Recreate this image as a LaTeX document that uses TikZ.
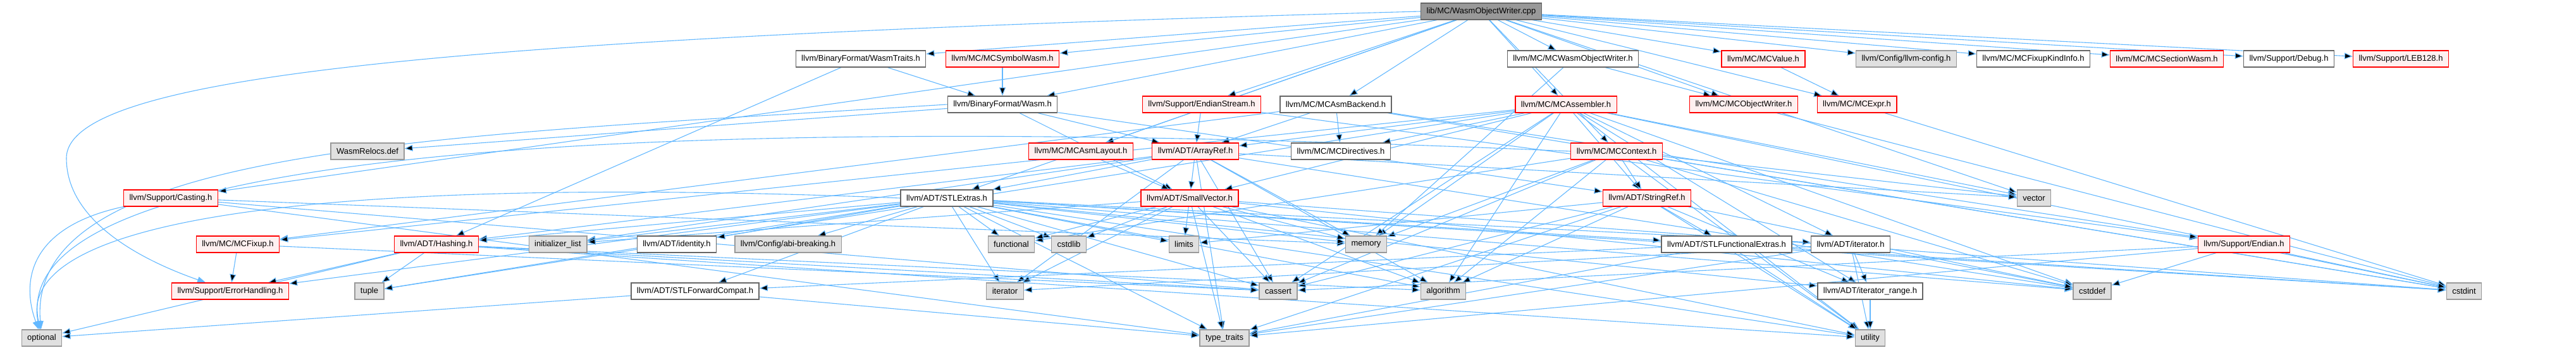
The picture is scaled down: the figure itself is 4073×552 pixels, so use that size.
\documentclass[tikz,border=0pt]{standalone}
\usepackage{fontspec}
\setmainfont{Liberation Sans}
\usetikzlibrary{arrows.meta, backgrounds}

\definecolor{edgeblue}{HTML}{63B8FF}
\definecolor{rootgray}{HTML}{999999}
\definecolor{stdgray}{HTML}{E0E0E0}
\definecolor{truncfill}{HTML}{FFF0F0}
\definecolor{plainline}{HTML}{666666}
\definecolor{stdline}{HTML}{999999}

\begin{document}
\begin{tikzpicture}[x=1pt, y=-1pt, >={Triangle[length=13pt, width=10pt]},
      hdr/.style={draw=plainline, fill=white, line width=1.3pt, minimum height=26pt,
                  inner xsep=9pt, inner ysep=0pt, font=\fontsize{13}{15}\selectfont},
      mainf/.style={hdr, fill=rootgray},
      trunc/.style={hdr, draw=red, fill=truncfill},
      stdh/.style={hdr, draw=stdline, fill=stdgray},
      dep/.style={->, draw=edgeblue, line width=1.1pt}]

    \useasboundingbox (0,0) rectangle (4073,552);

    % === source file ===
    \node[mainf] (root) at (2342, 18) {lib/MC/WasmObjectWriter.cpp};

    % === direct includes ===
    \node[hdr]   (wtraits)  at (1361, 93) {llvm/BinaryFormat/WasmTraits.h};
    \node[trunc] (symwasm)  at (1585, 93) {llvm/MC/MCSymbolWasm.h};
    \node[hdr]   (wasmow)   at (2487, 93) {llvm/MC/MCWasmObjectWriter.h};
    \node[trunc] (mcvalue)  at (2788, 93) {llvm/MC/MCValue.h};
    \node[stdh]  (llvmcfg)  at (3014, 93) {llvm/Config/llvm-config.h};
    \node[hdr]   (fixkind)  at (3215, 93) {llvm/MC/MCFixupKindInfo.h};
    \node[trunc] (secwasm)  at (3426, 93) {llvm/MC/MCSectionWasm.h};
    \node[hdr]   (debug)    at (3619, 93) {llvm/Support/Debug.h};
    \node[trunc] (leb)      at (3796, 93) {llvm/Support/LEB128.h};

    \node[hdr]   (wasmh)     at (1585, 165) {llvm/BinaryFormat/Wasm.h};
    \node[trunc] (endstream) at (1900, 165) {llvm/Support/EndianStream.h};
    \node[hdr]   (asmback)   at (2112, 165) {llvm/MC/MCAsmBackend.h};
    \node[trunc] (assembler) at (2476, 165) {llvm/MC/MCAssembler.h};
    \node[trunc] (objwriter) at (2757, 165) {llvm/MC/MCObjectWriter.h};
    \node[trunc] (mcexpr)    at (2936, 165) {llvm/MC/MCExpr.h};

    \node[stdh]  (relocs)     at (581, 239)  {WasmRelocs.def};
    \node[trunc] (asmlayout)  at (1709, 239) {llvm/MC/MCAsmLayout.h};
    \node[trunc] (arrayref)   at (1890, 239) {llvm/ADT/ArrayRef.h};
    \node[hdr]   (directives) at (2120, 239) {llvm/MC/MCDirectives.h};
    \node[trunc] (context)    at (2556, 239) {llvm/MC/MCContext.h};

    % === ADT / Support ===
    \node[trunc] (casting)   at (270, 313)  {llvm/Support/Casting.h};
    \node[hdr]   (stlextras) at (1497, 313) {llvm/ADT/STLExtras.h};
    \node[trunc] (smallvec)  at (1881, 313) {llvm/ADT/SmallVector.h};
    \node[trunc] (stringref) at (2604, 313) {llvm/ADT/StringRef.h};
    \node[stdh]  (vector)    at (3216, 313) {vector};

    \node[trunc] (fixup)      at (376, 386)  {llvm/MC/MCFixup.h};
    \node[trunc] (hashing)    at (690, 386)  {llvm/ADT/Hashing.h};
    \node[stdh]  (initlist)   at (882, 386)  {initializer\_list};
    \node[hdr]   (identity)   at (1070, 386) {llvm/ADT/identity.h};
    \node[stdh]  (abibreak)   at (1246, 386) {llvm/Config/abi-breaking.h};
    \node[stdh]  (functional) at (1599, 386) {functional};
    \node[stdh]  (cstdlib)    at (1690, 386) {cstdlib};
    \node[stdh]  (limits)     at (1872, 386) {limits};
    \node[stdh]  (memory)     at (2160, 386) {memory};
    \node[hdr]   (stlfunc)    at (2730, 386) {llvm/ADT/STLFunctionalExtras.h};
    \node[hdr]   (iteratorh)  at (2926, 386) {llvm/ADT/iterator.h};
    \node[trunc] (endian)     at (3548, 386) {llvm/Support/Endian.h};

    \node[trunc] (errhand)   at (364, 460)  {llvm/Support/ErrorHandling.h};
    \node[stdh]  (tuple)     at (584, 460)  {tuple};
    \node[hdr]   (fwdcompat) at (1099, 460) {llvm/ADT/STLForwardCompat.h};
    \node[stdh]  (iterator)  at (1589, 460) {iterator};
    \node[stdh]  (cassert)   at (2021, 460) {cassert};
    \node[stdh]  (algorithm) at (2282, 460) {algorithm};
    \node[hdr]   (itrange)   at (2957, 460) {llvm/ADT/iterator\_range.h};
    \node[stdh]  (cstddef)   at (3308, 460) {cstddef};
    \node[stdh]  (cstdint)   at (3896, 460) {cstdint};

    \node[stdh] (optional)   at (66, 534)   {optional};
    \node[stdh] (typetraits) at (1936, 534) {type\_traits};
    \node[stdh] (utility)    at (2957, 534) {utility};

    % === include edges ===
    \begin{scope}[on background layer]
    \path[dep] (root) edge (wtraits) edge (symwasm) edge (wasmh) edge (endstream)
        edge (asmlayout) edge (asmback) edge (assembler) edge (context) edge (wasmow)
        edge (objwriter) edge (mcexpr) edge (mcvalue) edge (llvmcfg) edge (fixkind)
        edge (secwasm) edge (debug) edge (leb) edge (casting) edge (stlextras) edge (vector);
    \draw[dep] (root.west) .. controls (700,60) and (105,120) .. (105,250)
        .. controls (105,360) and (250,420) .. (errhand);

    \path[dep] (wtraits) edge (hashing) edge (wasmh);
    \path[dep] (symwasm) edge (wasmh);
    \path[dep] (wasmh) edge (relocs) edge (arrayref) edge (smallvec) edge (stringref);
    \draw[dep] (wasmh.west) .. controls (700,215) and (40,230) .. (optional);
    \path[dep] (endstream) edge (arrayref) edge (endian);
    \path[dep] (asmlayout) edge (smallvec);
    \path[dep] (asmback) edge (arrayref) edge (directives) edge (fixup) edge (endian) edge (cstdint);
    \path[dep] (assembler) edge (arrayref) edge (smallvec) edge (stringref) edge (iteratorh)
        edge (itrange) edge (directives) edge (fixup) edge (algorithm) edge (cassert)
        edge (cstddef) edge (cstdint) edge (memory) edge (tuple) edge (utility) edge (vector);
    \path[dep] (context) edge (stringref) edge (algorithm) edge (cassert) edge (cstddef)
        edge (cstdint) edge (functional) edge (memory) edge (utility) edge (vector);
    \draw[dep] (context.west) .. controls (900,170) and (10,250) .. (optional);
    \path[dep] (wasmow) edge (objwriter) edge (memory);
    \path[dep] (objwriter) edge (cstdint);
    \path[dep] (mcvalue) edge (mcexpr);
    \path[dep] (mcexpr) edge (cstdint);

    \path[dep] (arrayref) edge (hashing) edge (smallvec) edge (stlextras) edge (algorithm)
        edge (cassert) edge (cstddef) edge (initlist) edge (iterator) edge (memory)
        edge (typetraits) edge (vector);
    \path[dep] (casting) edge (cassert) edge (memory) edge (typetraits);
    \draw[dep] (casting.south west) .. controls (40,360) and (35,450) .. (optional);
    \path[dep] (stlextras) edge (hashing) edge (fwdcompat) edge (stlfunc) edge (iteratorh)
        edge (itrange) edge (abibreak) edge (identity) edge (errhand) edge (algorithm)
        edge (cassert) edge (cstddef) edge (cstdint) edge (cstdlib) edge (functional)
        edge (initlist) edge (iterator) edge (limits) edge (memory) edge (tuple)
        edge (typetraits) edge (utility);
    \draw[dep] (stlextras.west) .. controls (600,280) and (20,330) .. (optional);
    \path[dep] (smallvec) edge (algorithm) edge (cassert) edge (cstddef) edge (cstdint)
        edge (cstdlib) edge (functional) edge (initlist) edge (iterator) edge (limits)
        edge (memory) edge (typetraits) edge (utility);
    \path[dep] (stringref) edge (stlfunc) edge (itrange) edge (algorithm) edge (cassert)
        edge (cstddef) edge (limits) edge (typetraits) edge (utility);

    \path[dep] (hashing) edge (errhand) edge (tuple) edge (algorithm) edge (cassert)
        edge (optional) edge (utility);
    \path[dep] (fixup) edge (errhand) edge (cassert);
    \path[dep] (stlfunc) edge (fwdcompat) edge (cstdint) edge (typetraits) edge (utility);
    \path[dep] (iteratorh) edge (itrange) edge (cstddef) edge (iterator) edge (typetraits) edge (utility);
    \path[dep] (endian) edge (cassert) edge (cstddef) edge (cstdint) edge (typetraits);
    \path[dep] (fwdcompat) edge (optional) edge (typetraits);
    \path[dep] (itrange) edge (utility);
    \end{scope}

\end{tikzpicture}
\end{document}
